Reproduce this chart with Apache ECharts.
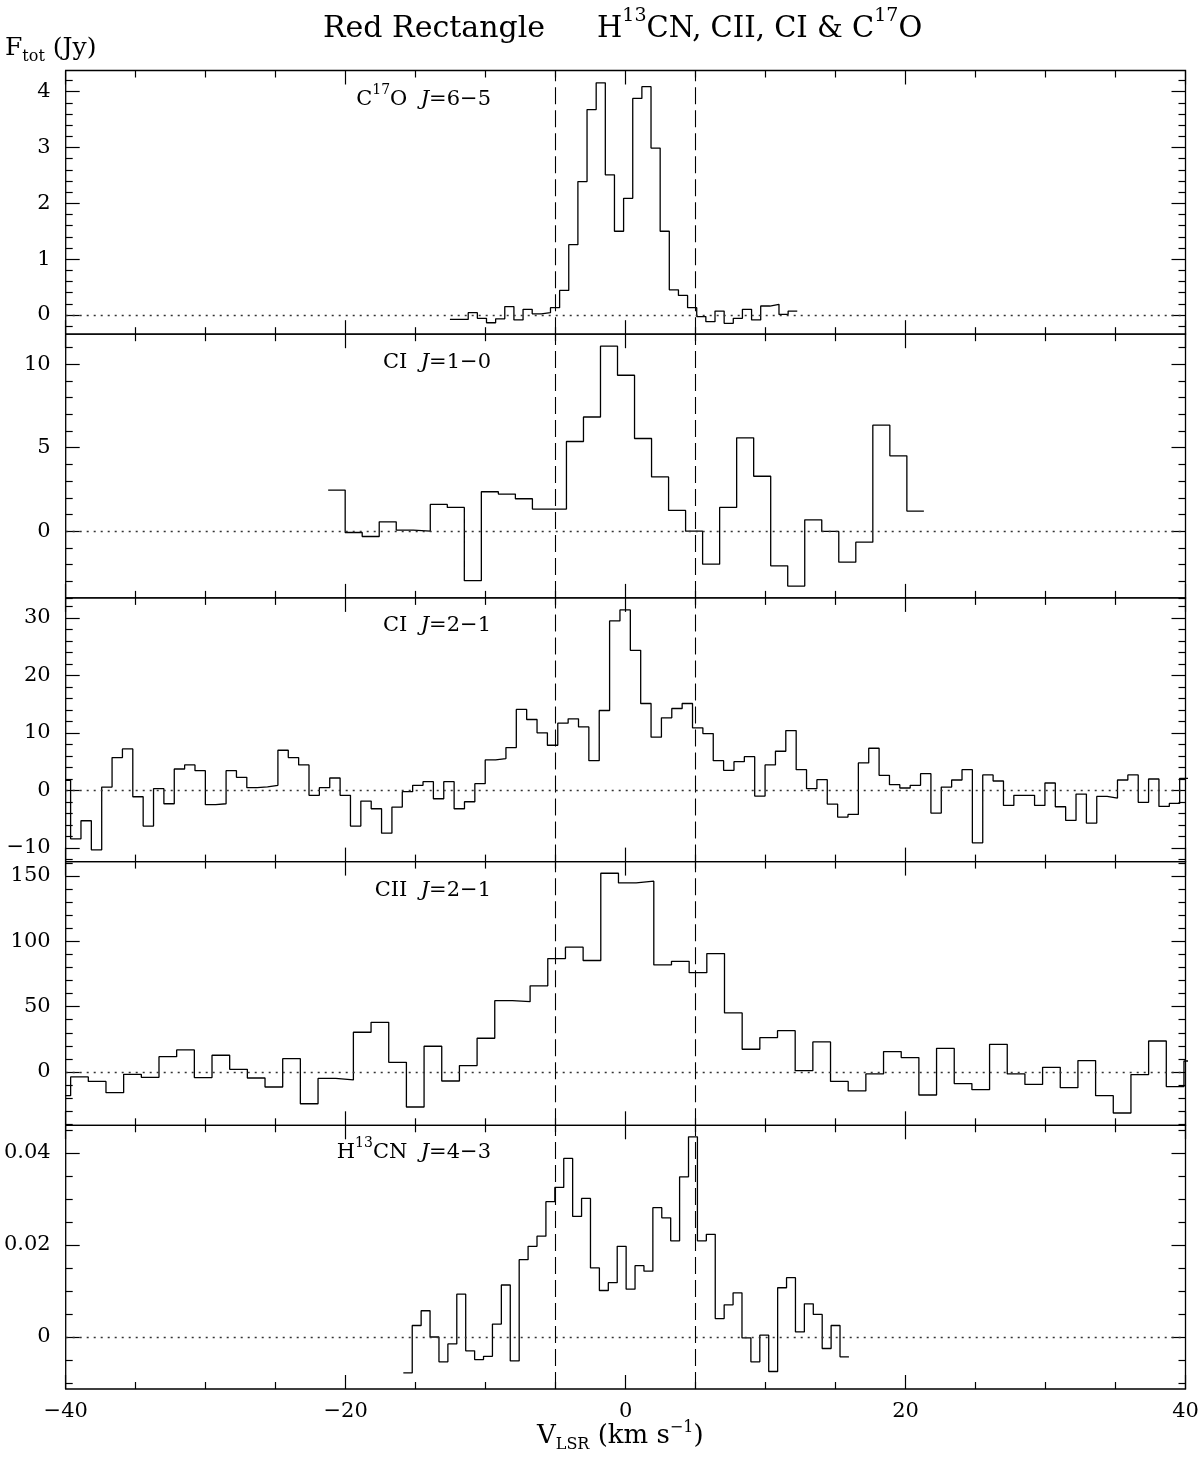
<!DOCTYPE html>
<html>
<head>
<meta charset="utf-8">
<script src="https://cdn.jsdelivr.net/npm/echarts@6.0.0/dist/echarts.min.js"></script>
<style>
html,body{margin:0;padding:0;background:#fff;}
#chart{width:1200px;height:1457px;}
</style>
</head>
<body>
<div id="chart"></div>
<script>
// ---------------- data ----------------
const xTicks = [-40, -20, 0, 20, 40];

// C17O J=6-5 : channel grid (left edge of first channel, channel width, km/s) and fluxes (Jy)
const c17oStart = -12.55;
const c17oWidth = 0.653;
const c17oValues = [-0.08, -0.08, 0.04, -0.06, -0.14, -0.07, 0.15, -0.09, 0.10, 0.02,
  0.04, 0.13, 0.44, 1.26, 2.39, 3.68, 4.16, 2.51, 1.50, 2.09,
  3.88, 4.09, 2.99, 1.50, 0.45, 0.35, 0.13, -0.03, -0.12, 0.07,
  -0.15, -0.06, 0.10, -0.09, 0.16, 0.19, 0.01, 0.07];
const c17oTicks = [0, 1, 2, 3, 4];

// CI J=1-0
const ci10Start = -21.25;
const ci10Width = 1.216;
const ci10Values = [2.46, -0.08, -0.32, 0.56, 0.06, 0.0, 1.60, 1.42, -2.97, 2.36,
  2.22, 1.94, 1.32, 1.32, 5.37, 6.84, 11.08, 9.34, 5.55, 3.25,
  1.24, 0.0, -1.98, 1.42, 5.59, 3.29, -2.08, -3.29, 0.68, -0.02,
  -1.86, -0.66, 6.35, 4.51, 1.20];
const ci10Ticks = [0, 5, 10];

// CI J=2-1
const ci21Start = -40.39;
const ci21Width = 0.7405;
const ci21Values = [1.75,
  -8.43, -5.29, -10.35, 0.58, 5.70, 7.21, -1.11, -6.22, 0.29, -2.33,
  3.72, 4.42, 3.43, -2.50, -2.33, 3.43, 2.27, 0.47, 0.60, 0.87,
  6.98, 5.70, 4.42, -0.87, 0.47, 2.15, -0.87, -6.22, -1.86, -3.20,
  -7.45, -2.91, -0.23, 0.87, 1.51, -1.46, 1.51, -3.20, -1.98, 1.16,
  5.29, 5.53, 7.44, 14.08, 12.33, 10.01, 7.85, 11.69, 12.45, 11.05,
  5.17, 13.90, 29.49,
  31.41, 24.38, 15.12, 9.25, 12.62, 14.25, 15.12, 10.88, 9.89, 5.17,
  3.49, 4.99, 5.87, -0.99, 4.42, 6.81, 10.41, 3.60, 0.29, 1.86,
  -2.39, -4.65, -4.19, 4.77, 7.33, 2.62, 0.99, 0.41, 0.87, 2.91,
  -3.96, 0.58, 1.80, 3.60, -9.13, 2.68, 1.63, -2.62, -0.87, -0.87,
  -2.62, 1.28, -2.85, -5.24, -0.64, -5.70, -1.05, -1.34, 1.80, 2.68,
  -2.09, 1.98, -2.79, -2.27, 2.09];
const ci21Ticks = [-10, 0, 10, 20, 30];

// CII J=2-1
const ciiStart = -40.91;
const ciiWidth = 1.2625;
const ciiValues = [-18.1, -3.8, -7.2, -15.8, -1.8, -4.1, 11.7, 16.9, -4.3, 12.8,
  2.0, -4.6, -11.5, 10.2, -24.3, -4.9, -6.1, 30.4, 38.0, 7.4,
  -26.8, 19.7, -6.9, 4.9, 25.8, 54.6, 53.8, 65.9, 86.8, 95.5,
  85.3, 152.1, 144.7, 146.0, 81.9, 84.7, 76.0, 90.6, 45.2, 17.4,
  26.3, 31.6, 1.0, 23.0, -7.2, -14.5, -1.5, 15.6, 11.0, -17.6,
  18.1, -8.9, -13.5, 21.2, -1.5, -9.5, 3.6, -12.0, 8.7, -18.1,
  -31.4, -2.0, 23.7, -11.2, 8.4];
const ciiTicks = [0, 50, 100, 150];

// H13CN J=4-3
const h13cnStart = -15.88;
const h13cnWidth = 0.6367;
const h13cnValues = [-0.0078, 0.0025, 0.0057, 0.0, -0.0054, -0.0015, 0.0093, -0.0030, -0.0049, -0.0042,
  0.0028, 0.0113, -0.0052, 0.0168, 0.0197, 0.0219, 0.0294, 0.0325, 0.0388, 0.0262,
  0.0301, 0.0150, 0.0101, 0.0118, 0.0197, 0.0104, 0.0155, 0.0143, 0.0281, 0.0259,
  0.0209, 0.0348, 0.0435, 0.0209, 0.0223, 0.0040, 0.0070, 0.0096, -0.0002, -0.0054,
  0.0004, -0.0075, 0.0107, 0.0129, 0.0011, 0.0072, 0.0049, -0.0025, 0.0025, -0.0043];
const h13cnTicks = [0, 0.02, 0.04];

// ---------------- layout ----------------
const FONT = 'DejaVu Serif';
const GRID_LEFT = 65.7, GRID_WIDTH = 1119.8;
const GRID_TOPS = [70.5, 334.2, 597.9, 861.6, 1125.3];
const GRID_H = 263.7;

const panels = [
  {values: c17oValues, start: c17oStart, width: c17oWidth, ticks: c17oTicks, yMin: -0.345, yMax: 4.38, minor: 0.2,
   label: '{t|C}{sup|17}{t|O  }{it|J}{t|=6\u22125}', labelTop: 83},
  {values: ci10Values, start: ci10Start, width: ci10Width, ticks: ci10Ticks, yMin: -4.0, yMax: 11.8, minor: 1,
   label: '{t|CI  }{it|J}{t|=1\u22120}', labelTop: 346},
  {values: ci21Values, start: ci21Start, width: ci21Width, ticks: ci21Ticks, yMin: -12.4, yMax: 33.5, minor: 2,
   label: '{t|CI  }{it|J}{t|=2\u22121}', labelTop: 609},
  {values: ciiValues, start: ciiStart, width: ciiWidth, ticks: ciiTicks, yMin: -40.8, yMax: 161, minor: 10,
   label: '{t|CII  }{it|J}{t|=2\u22121}', labelTop: 874},
  {values: h13cnValues, start: h13cnStart, width: h13cnWidth, ticks: h13cnTicks, yMin: -0.0113, yMax: 0.0460, minor: 0.005,
   label: '{t|H}{sup|13}{t|CN  }{it|J}{t|=4\u22123}', labelTop: 1136}
];

function fmt(v) {
  return v < 0 ? '\u2212' + String(-v) : String(v);
}
function minorValues(min, max, step, majors) {
  const out = [];
  for (let k = Math.ceil(min / step); k <= Math.floor(max / step); k++) {
    const v = +(k * step).toFixed(6);
    if (!majors.some(m => Math.abs(m - v) < step / 10)) out.push(v);
  }
  return out;
}
function histogram(start, width, vals) {
  const d = vals.map((v, i) => [start + i * width, v]);
  d.push([start + vals.length * width, vals[vals.length - 1]]);
  return d;
}

const tickStyle = {color: '#000', width: 1.2};
const NW = 'normal';
const labelRich = {
  t: {fontFamily: FONT, fontSize: 21, fontWeight: NW, color: '#000', lineHeight: 34},
  it: {fontFamily: FONT, fontSize: 21, fontWeight: NW, color: '#000', fontStyle: 'italic', lineHeight: 34},
  sup: {fontFamily: FONT, fontSize: 14, fontWeight: NW, color: '#000', lineHeight: 16, verticalAlign: 'top'}
};

const grids = [], xAxes = [], yAxes = [], series = [], titles = [];

panels.forEach((p, i) => {
  grids.push({left: GRID_LEFT, width: GRID_WIDTH, top: GRID_TOPS[i], height: GRID_H,
    show: true, borderColor: '#000', borderWidth: 1.3, backgroundColor: 'transparent',
    containLabel: false, outerBoundsMode: 'none'});
  const xBase = {type: 'value', gridIndex: i, min: -40, max: 40, interval: 20,
    axisLine: {show: false, onZero: false}, splitLine: {show: false},
    axisTick: {show: true, inside: true, length: 14, lineStyle: tickStyle},
    minorTick: {show: true, splitNumber: 4, length: 7, lineStyle: tickStyle}};
  const xb = xAxes.length;
  xAxes.push(Object.assign({}, xBase, {position: 'bottom',
    axisLabel: {show: i === 4, customValues: xTicks, formatter: fmt, fontFamily: FONT, fontSize: 21, fontWeight: NW, color: '#000', margin: 12}}));
  xAxes.push(Object.assign({}, xBase, {position: 'top', axisLabel: {show: false}}));

  const minors = minorValues(p.yMin, p.yMax, p.minor, p.ticks);
  const yBase = {type: 'value', gridIndex: i, min: p.yMin, max: p.yMax,
    axisLine: {show: false, onZero: false}, splitLine: {show: false}};
  const yl = yAxes.length;
  yAxes.push(Object.assign({}, yBase, {position: 'left',
    axisTick: {show: true, inside: true, length: 14, lineStyle: tickStyle, customValues: p.ticks},
    axisLabel: {show: true, customValues: p.ticks, formatter: fmt, fontFamily: FONT, fontSize: 21, fontWeight: NW, color: '#000', margin: 15}}));
  yAxes.push(Object.assign({}, yBase, {position: 'left',
    axisTick: {show: true, inside: true, length: 7, lineStyle: tickStyle, customValues: minors},
    axisLabel: {show: false}}));
  yAxes.push(Object.assign({}, yBase, {position: 'right',
    axisTick: {show: true, inside: true, length: 14, lineStyle: tickStyle, customValues: p.ticks},
    axisLabel: {show: false}}));
  yAxes.push(Object.assign({}, yBase, {position: 'right',
    axisTick: {show: true, inside: true, length: 7, lineStyle: tickStyle, customValues: minors},
    axisLabel: {show: false}}));

  series.push({type: 'line', xAxisIndex: xb, yAxisIndex: yl, step: 'end',
    data: histogram(p.start, p.width, p.values),
    showSymbol: false, symbol: 'none', clip: true, silent: true,
    lineStyle: {color: '#000', width: 1.3}, emphasis: {disabled: true},
    markLine: {silent: true, symbol: 'none', animation: false, label: {show: false},
      emphasis: {disabled: true},
      data: [
        {xAxis: -5, lineStyle: {type: [17, 6], color: '#000', width: 1.1}},
        {xAxis: 5, lineStyle: {type: [17, 6], color: '#000', width: 1.1}},
        {yAxis: 0, lineStyle: {type: [2, 5], color: '#333', width: 1.3}}
      ]}
  });

  titles.push({text: p.label, right: 1200 - 491, top: p.labelTop, padding: 0,
    textStyle: {fontWeight: NW, rich: labelRich}});
});

titles.push({text: 'Red Rectangle', left: 323, top: 11, padding: 0,
  textStyle: {fontFamily: FONT, fontSize: 30, fontWeight: NW, color: '#000', lineHeight: 36}});
titles.push({text: '{m|H}{s|13}{m|CN, CII, CI & C}{s|17}{m|O}', left: 597, top: 7, padding: 0,
  textStyle: {fontWeight: NW, rich: {
    m: {fontFamily: FONT, fontSize: 29, fontWeight: NW, color: '#000', lineHeight: 44},
    s: {fontFamily: FONT, fontSize: 19, fontWeight: NW, color: '#000', lineHeight: 20, verticalAlign: 'top'}
  }}});
titles.push({text: '{m|F}{sub|tot}{m| (Jy)}', left: 5, top: 31, padding: 0,
  textStyle: {fontWeight: NW, rich: {
    m: {fontFamily: FONT, fontSize: 25, fontWeight: NW, color: '#000', lineHeight: 34},
    sub: {fontFamily: FONT, fontSize: 16, fontWeight: NW, color: '#000', lineHeight: 16, verticalAlign: 'bottom'}
  }}});
titles.push({text: '{m|V}{sub|LSR}{m| (km s}{sup|\u22121}{m|)}', left: 537, top: 1420, padding: 0,
  textStyle: {fontWeight: NW, rich: {
    m: {fontFamily: FONT, fontSize: 26, fontWeight: NW, color: '#000', lineHeight: 33},
    sub: {fontFamily: FONT, fontSize: 16, fontWeight: NW, color: '#000', lineHeight: 16, verticalAlign: 'bottom'},
    sup: {fontFamily: FONT, fontSize: 16, fontWeight: NW, color: '#000', lineHeight: 16, verticalAlign: 'top'}
  }}});

const chart = echarts.init(document.getElementById('chart'), null, {renderer: 'canvas'});
chart.setOption({
  animation: false,
  backgroundColor: '#fff',
  title: titles,
  grid: grids,
  xAxis: xAxes,
  yAxis: yAxes,
  series: series
});
</script>
</body>
</html>
